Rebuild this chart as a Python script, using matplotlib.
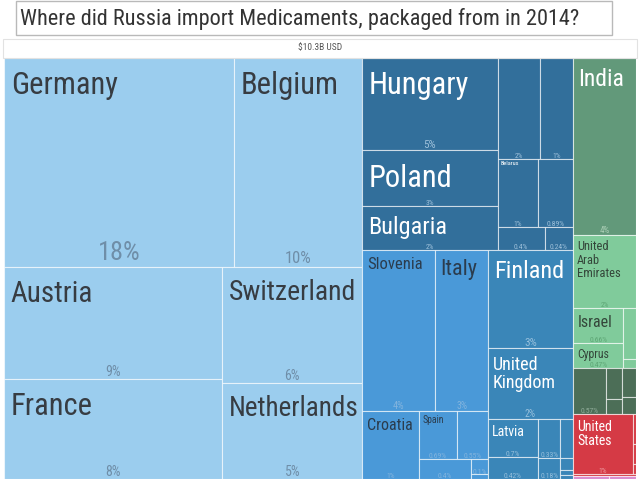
import matplotlib
matplotlib.use("Agg")
import matplotlib.pyplot as plt
from matplotlib import font_manager as fm
from matplotlib.patches import Rectangle

# pick the narrowest installed sans
have = {(f.name, f.stretch) for f in fm.fontManager.ttflist}
names = {n for n, s in have}
fam, stretch = "DejaVu Sans", "normal"
for cand in ["Roboto Condensed", "Liberation Sans Narrow", "Open Sans Condensed", "Noto Sans Condensed"]:
    if cand in names:
        fam = cand
        break
else:
    for n, s in have:
        if n in ("Roboto", "Noto Sans", "Open Sans", "DejaVu Sans") and s in ("condensed", "semi-condensed", "extra-condensed"):
            fam, stretch = n, s
            break
    else:
        fam = "Roboto"
plt.rcParams['font.family'] = [fam, 'DejaVu Sans']
plt.rcParams['font.stretch'] = stretch

# share of Russia's imports (%)
countries = ["Germany", "Belgium", "Austria", "France", "Switzerland", "Netherlands",
             "Hungary", "Poland", "Bulgaria", "ee1", "ee2", "Belarus", "ee3", "ee4", "ee5",
             "Slovenia", "Italy", "Croatia", "Spain", "se1", "se2", "se3", "se4",
             "Finland", "United Kingdom", "Latvia", "ne1", "ne2", "ne3", "ne4", "ne5", "ne6", "ne7",
             "India", "United Arab Emirates", "Israel", "Cyprus", "wa1", "wa2",
             "as1", "as2", "as3", "as4", "as5",
             "United States", "am1", "am2", "am3", "am4",
             "af1", "af2"]
shares = [18.0, 10.1, 9.2, 8.2, 6.1, 5.05,
          4.7, 2.8, 2.25, 1.6, 1.25, 1.05, 0.89, 0.4, 0.24,
          4.4, 3.2, 1.45, 0.69, 0.55, 0.4, 0.1, 0.03,
          3.13, 2.27, 0.7, 0.42, 0.33, 0.18, 0.18, 0.06, 0.02, 0.02,
          4.19, 1.73, 0.66, 0.47, 0.24, 0.04,
          0.57, 0.19, 0.09, 0.16, 0.09,
          1.35, 0.03, 0.02, 0.01, 0.06,
          0.04, 0.03]
regions = ["we"] * 6 + ["ee"] * 9 + ["se"] * 8 + ["ne"] * 10 + ["sa"] + ["wa"] * 5 + \
          ["as"] * 5 + ["am"] * 5 + ["af"] * 2

total_usd = "$10.3B USD"
title = "Where did Russia import Medicaments, packaged from in 2014?"

# how the treemap is sliced (h = side by side, v = stacked)
tree = ("h", [
    ("v", [("h", ["Germany", "Belgium"]),
           ("h", [("v", ["Austria", "France"]), ("v", ["Switzerland", "Netherlands"])])]),
    ("v", [
        ("h", [("v", ["Hungary", "Poland", "Bulgaria"]),
               ("v", [("h", ["ee1", "ee2"]), ("h", ["Belarus", "ee3"]), ("h", ["ee4", "ee5"])])]),
        ("h", [
            ("v", [("h", ["Slovenia", "Italy"]),
                   ("h", ["Croatia", ("v", [("h", ["Spain", "se1"]),
                                            ("h", ["se2", ("v", ["se3", "se4"])])])])]),
            ("v", ["Finland", "United Kingdom",
                   ("h", [("v", ["Latvia", "ne1"]), ("v", ["ne2", "ne3"]),
                          ("v", ["ne4", "ne5", "ne6", "ne7"])])]),
        ]),
    ]),
    ("v", ["India", "United Arab Emirates",
           ("h", [("v", ["Israel", "Cyprus"]), ("v", ["wa1", "wa2"])]),
           ("h", ["as1", ("v", ["as2", "as3"]), ("v", ["as4", "as5"])]),
           ("v", [("h", ["United States", ("v", ["am1", "am2", "am3"])]), "am4"]),
           ("h", ["af1", "af2"])]),
])

# region styles: fill, label colour, percent colour
style = {
    "we": ("#9bcdee", "#373c42", "#6f8ea8"),
    "ee": ("#326f9b", "#ffffff", "#9dc0da"),
    "se": ("#4a99d8", "#2b3c4d", "#82b4de"),
    "ne": ("#3a86b8", "#ffffff", "#95bfdc"),
    "sa": ("#62997a", "#ffffff", "#a9cdb4"),
    "wa": ("#80cb9b", "#34463a", "#5ea675"),
    "as": ("#4c6e57", "#ffffff", "#91ad9a"),
    "am": ("#d53a45", "#ffffff", "#ef9ca2"),
    "af": ("#d98bcf", "#ffffff", "#ffffff"),
}

label_text = {"United Arab Emirates": "United\nArab\nEmirates",
              "United Kingdom": "United\nKingdom",
              "United States": "United\nStates"}
label_pt = {"Germany": 22, "Belgium": 22, "Austria": 21, "Switzerland": 20, "France": 22,
            "Netherlands": 19.5, "Hungary": 22, "Poland": 22, "Bulgaria": 17.5, "Finland": 17.5,
            "Italy": 16, "Slovenia": 12, "United Kingdom": 13, "Croatia": 11.5, "Latvia": 10,
            "Spain": 7, "Belarus": 4.5, "India": 17, "United Arab Emirates": 9,
            "Israel": 11.5, "Cyprus": 8.5, "United States": 10}
pct_pt = {"Germany": 19, "Belgium": 12, "Austria": 10, "France": 10, "Switzerland": 10,
          "Netherlands": 10, "Hungary": 8, "Slovenia": 7.5, "Italy": 7, "Finland": 8,
          "United Kingdom": 7, "India": 6.5}
no_pct = {"se4", "ne4", "ne5", "ne6", "ne7", "wa1", "wa2", "as2", "as3", "as4", "as5",
          "am1", "am2", "am3", "am4", "af1", "af2"}

val = dict(zip(countries, shares))
reg = dict(zip(countries, regions))


def total(node):
    if isinstance(node, str):
        return val[node]
    return sum(total(k) for k in node[1])


def place(node, x, y, w, h, out):
    if isinstance(node, str):
        out[node] = (x, y, w, h)
        return
    d, kids = node
    s = total(node)
    for k in kids:
        f = total(k) / s
        if d == "h":
            place(k, x, y, w * f, h, out)
            x += w * f
        else:
            place(k, x, y, w, h * f, out)
            y += h * f


def pct(v):
    return f"{round(v)}%" if v >= 1 else f"{v:.2g}%"


W, H = 632, 421
fig = plt.figure(figsize=(6.4, 4.85), dpi=100)
fig.patch.set_facecolor("white")


def fig_rect(x, y, w, h, **kw):
    # pixel box measured from the top-left corner
    r = Rectangle((x / 640, 1 - (y + h) / 485), w / 640, h / 485, transform=fig.transFigure, **kw)
    fig.patches.append(r)


fig_rect(16, 2, 596, 34, facecolor="white", edgecolor="#b9b9b9", lw=1)
fig.text(20 / 640, 1 - 19 / 485, title, fontsize=16, color="#333333", va="center", ha="left")
fig_rect(3, 40, 634, 19, facecolor="white", edgecolor="#e2e2e2", lw=0.8)
fig.text(0.5, 1 - 48 / 485, total_usd, fontsize=6.8, color="#555555", ha="center", va="center")

ax = fig.add_axes([4 / 640, 5 / 485, W / 640, H / 485])
ax.set_xlim(0, W)
ax.set_ylim(H, 0)
ax.axis("off")

cells = {}
place(tree, 0, 0, W, H, cells)

for name in countries:
    x, y, w, h = cells[name]
    fill, lc, pc = style[reg[name]]
    rect = Rectangle((x, y), w, h, facecolor=fill, edgecolor=(1, 1, 1, 0.6), lw=0.8)
    ax.add_patch(rect)
    if name in label_pt:
        fs = label_pt[name]
        t = ax.annotate(label_text.get(name, name), (x, y),
                        xytext=(0.15 * fs + 1.5, -(0.45 * fs - 1.0)),
                        textcoords="offset points", ha="left", va="top",
                        fontsize=fs, color=lc, linespacing=1.05)
        t.set_clip_path(rect)
    if name not in no_pct:
        fs = pct_pt.get(name, 5.5)
        t = ax.annotate(pct(val[name]), (x + w / 2, y + h), xytext=(0, 0.1 * fs),
                        textcoords="offset points", ha="center", va="bottom",
                        fontsize=fs, color=pc)
        t.set_clip_path(rect)

fig.savefig("out.png", dpi=100)
